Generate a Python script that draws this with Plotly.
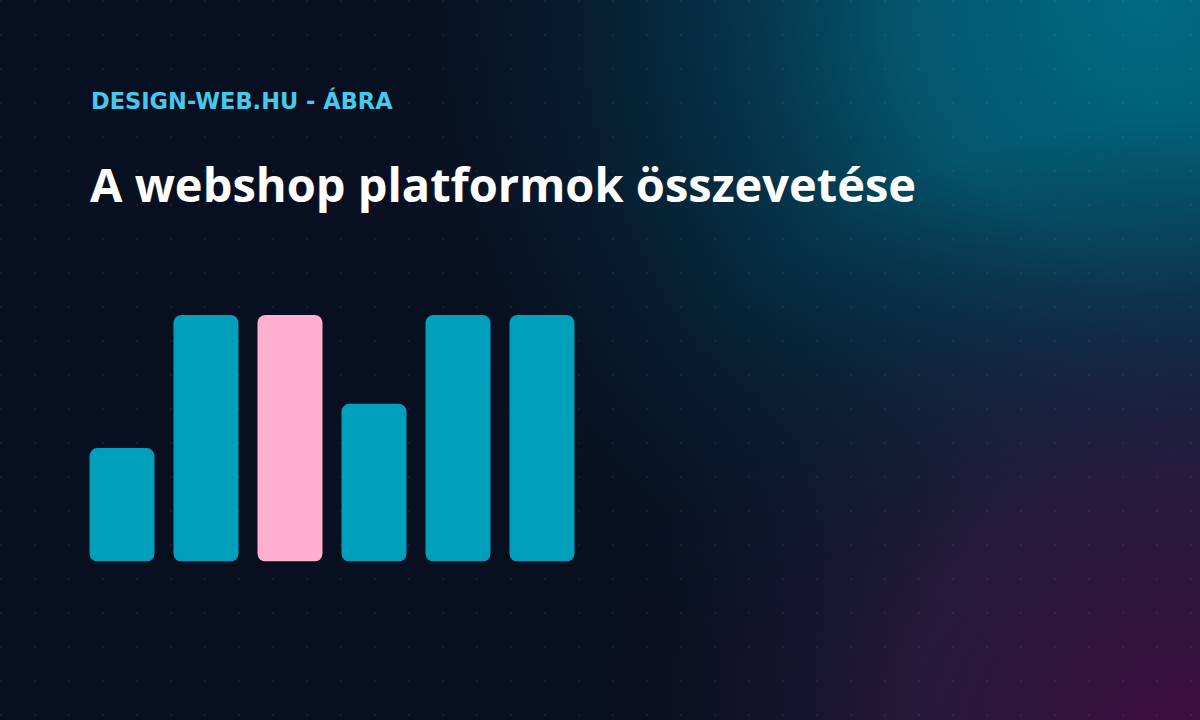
import base64
import plotly.graph_objects as go

# Data
platforms = ["Platform 1", "Platform 2", "Platform 3", "Platform 4", "Platform 5", "Platform 6"]
scores = [46, 100, 100, 64, 100, 100]
highlight = "Platform 3"

subtitle = "DESIGN-WEB.HU - ÁBRA"
title = "A webshop platformok összevetése"

BAR = "#00a0bc"
PINK = "#ffafcf"

# Background: dark navy with teal / purple glow and a faint dot grid
bg_svg = """<svg xmlns="http://www.w3.org/2000/svg" width="1200" height="720" viewBox="0 0 1200 720">
<defs>
<radialGradient id="teal" gradientUnits="userSpaceOnUse" cx="1150" cy="0" r="820">
<stop offset="0" stop-color="#016a84" stop-opacity="1"/>
<stop offset="0.3" stop-color="#035a72" stop-opacity="0.95"/>
<stop offset="0.6" stop-color="#05384e" stop-opacity="0.6"/>
<stop offset="1" stop-color="#081222" stop-opacity="0"/>
</radialGradient>
<radialGradient id="purple" gradientUnits="userSpaceOnUse" cx="1180" cy="740" r="620">
<stop offset="0" stop-color="#3e0e3e" stop-opacity="1"/>
<stop offset="0.45" stop-color="#2a1a3e" stop-opacity="0.85"/>
<stop offset="1" stop-color="#0b1224" stop-opacity="0"/>
</radialGradient>
<pattern id="dots" patternUnits="userSpaceOnUse" width="34" height="34">
<circle cx="1" cy="1" r="1" fill="#ffffff" fill-opacity="0.07"/>
</pattern>
</defs>
<rect width="1200" height="720" fill="#080f20"/>
<rect width="1200" height="720" fill="url(#teal)"/>
<rect width="1200" height="720" fill="url(#purple)"/>
<rect width="1200" height="720" fill="url(#dots)"/>
</svg>"""
bg_uri = "data:image/svg+xml;base64," + base64.b64encode(bg_svg.encode("utf-8")).decode("ascii")

colors = [PINK if p == highlight else BAR for p in platforms]

# an explicit base makes plotly round both ends of each bar
fig = go.Figure(go.Bar(
    x=list(range(len(platforms))),
    y=scores,
    base=[0] * len(scores),
    marker=dict(color=colors, cornerradius=8, line=dict(width=0)),
    hovertext=platforms,
    hovertemplate="%{hovertext}: %{y}<extra></extra>",
))

W, H = 1200, 720
fig.update_layout(
    width=W, height=H,
    margin=dict(l=0, r=0, t=0, b=0),
    paper_bgcolor="#080f20",
    plot_bgcolor="rgba(0,0,0,0)",
    bargap=1 - 65 / 84,
    showlegend=False,
    font=dict(family="Open Sans, sans-serif"),
    xaxis=dict(domain=[80 / W, 584 / W], range=[-0.5, 5.5], visible=False, fixedrange=True),
    yaxis=dict(domain=[(H - 561.5) / H, (H - 315) / H], range=[0, 100], visible=False, fixedrange=True),
    images=[dict(source=bg_uri, xref="paper", yref="paper", x=0, y=1, sizex=1, sizey=1,
                 xanchor="left", yanchor="top", sizing="stretch", layer="below")],
    annotations=[
        dict(text=f"<b>{subtitle}</b>", xref="paper", yref="paper", x=89 / W, y=1 - 101 / H,
             xanchor="left", yanchor="middle", showarrow=False,
             font=dict(size=22.5, color="#45c9ec", family="DejaVu Sans, sans-serif")),
        dict(text=f"<b>{title}</b>", xref="paper", yref="paper", x=88 / W, y=1 - 184 / H,
             xanchor="left", yanchor="middle", showarrow=False,
             font=dict(size=47, color="#ffffff", family="Open Sans, sans-serif")),
    ],
)

fig.write_html("out.html", config={"displayModeBar": False},
               post_script="document.body.style.margin='0';")
